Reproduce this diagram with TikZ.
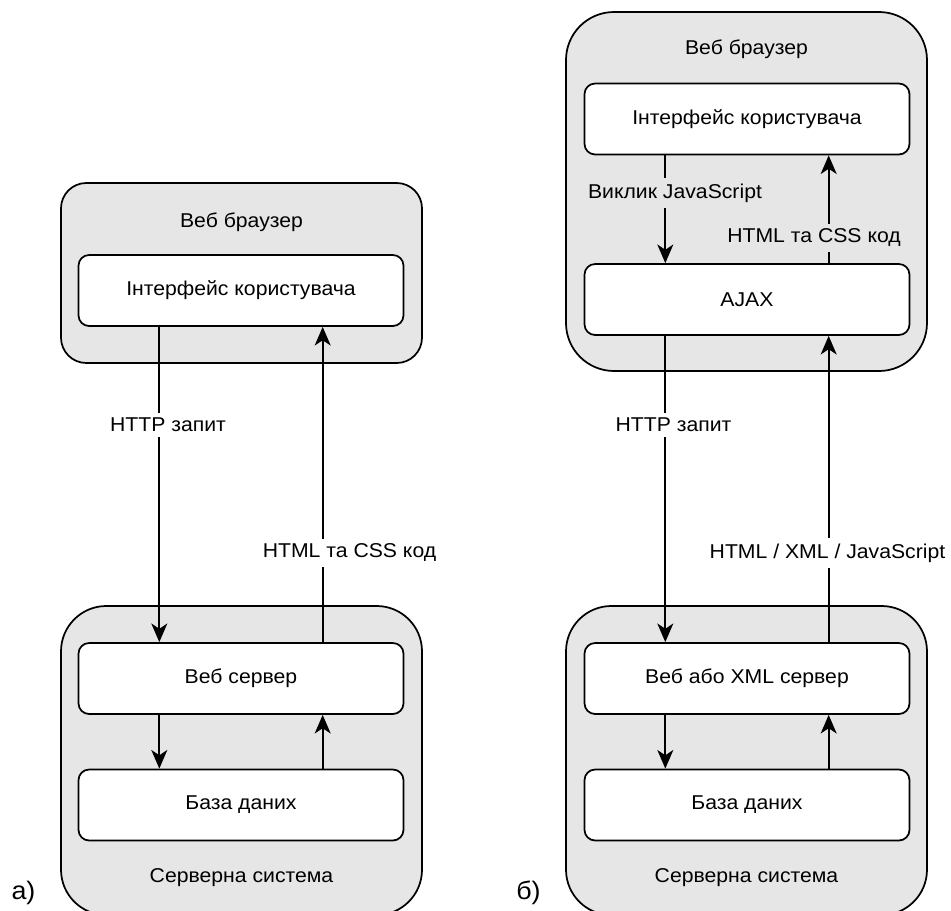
\documentclass[tikz,border=0pt]{standalone}
\usepackage{fontspec}
\setmainfont[FakeStretch=1.06]{Liberation Sans}
\usetikzlibrary{arrows.meta,calc}
\definecolor{boxgray}{HTML}{E6E6E6}

\begin{document}
\begin{tikzpicture}[x=0.75pt,y=-0.75pt,
  font=\fontsize{15}{18}\selectfont,
  container/.style={draw, line width=1.3pt, fill=boxgray, inner sep=0pt, minimum width=361*0.75pt},
  block/.style={draw, line width=1.3pt, fill=white, rounded corners=8pt,
    minimum width=325*0.75pt, minimum height=71*0.75pt},
  flow/.style={line width=1.3pt, -{Stealth[length=14pt, width=12pt, inset=4pt]}},
  caption/.style={fill=#1, inner sep=4pt},
  tag/.style={font=\fontsize{19}{22}\selectfont}]
\useasboundingbox (0,0) rectangle (951,911);
\clip (0,0) rectangle (951,911);

% a) page reload model
\node[container, rounded corners=19pt, minimum height=180*0.75pt] (browA) at (241.5,273) {};
\node (browAt) at (241.5,222) {Веб браузер};
\node[block] (uiA) at (241,290.5) {Інтерфейс користувача};
\node[container, rounded corners=34pt, minimum height=309*0.75pt] (servA) at (241.5,760.5) {};
\node[block] (webA) at (241,678.5) {Веб сервер};
\node[block] (dbA) at (241,805) {База даних};
\node (servAt) at (241.5,878) {Серверна система};

\draw[flow] ($(uiA.south west)!.25!(uiA.south east)$) -- ($(webA.north west)!.25!(webA.north east)$);
\draw[flow] ($(webA.north west)!.75!(webA.north east)$) -- ($(uiA.south west)!.75!(uiA.south east)$);
\draw[flow] ($(webA.south west)!.25!(webA.south east)$) -- ($(dbA.north west)!.25!(dbA.north east)$);
\draw[flow] ($(dbA.north west)!.75!(dbA.north east)$) -- ($(webA.south west)!.75!(webA.south east)$);
\node[caption=white] (reqA) at (168,425) {HTTP запит};
\node[caption=white] (resA) at (349.5,553) {HTML та CSS код};
\node[tag] (tagA) at (23.5,893) {а)};

% b) AJAX model
\node[container, rounded corners=36pt, minimum height=359*0.75pt] (browB) at (746.5,191.5) {};
\node (browBt) at (746.5,49) {Веб браузер};
\node[block] (uiB) at (747,119) {Інтерфейс користувача};
\node[block] (ajax) at (747,299.5) {AJAX};
\node[container, rounded corners=34pt, minimum height=309*0.75pt] (servB) at (746.5,760.5) {};
\node[block] (webB) at (747,678.5) {Веб або XML сервер};
\node[block] (dbB) at (747,805) {База даних};
\node (servBt) at (746.5,878) {Серверна система};

\draw[flow] ($(uiB.south west)!.25!(uiB.south east)$) -- ($(ajax.north west)!.25!(ajax.north east)$);
\draw[flow] ($(ajax.north west)!.75!(ajax.north east)$) -- ($(uiB.south west)!.75!(uiB.south east)$);
\draw[flow] ($(ajax.south west)!.25!(ajax.south east)$) -- ($(webB.north west)!.25!(webB.north east)$);
\draw[flow] ($(webB.north west)!.75!(webB.north east)$) -- ($(ajax.south west)!.75!(ajax.south east)$);
\draw[flow] ($(webB.south west)!.25!(webB.south east)$) -- ($(dbB.north west)!.25!(dbB.north east)$);
\draw[flow] ($(dbB.north west)!.75!(dbB.north east)$) -- ($(webB.south west)!.75!(webB.south east)$);
\node[caption=boxgray] (callB) at (675,193) {Виклик JavaScript};
\node[caption=boxgray] (cssB) at (814,238) {HTML та CSS код};
\node[caption=white] (reqB) at (673.5,425) {HTTP запит};
\node[caption=white] (resB) at (827.5,553) {HTML / XML / JavaScript};
\node[tag] (tagB) at (528.5,893) {б)};
\end{tikzpicture}
\end{document}
